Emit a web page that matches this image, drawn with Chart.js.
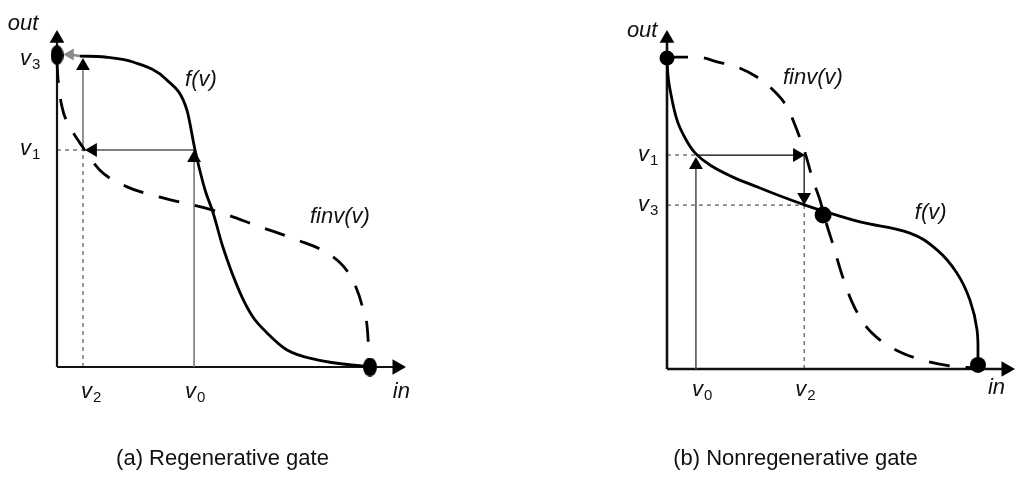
<!DOCTYPE html>
<html><head><meta charset="utf-8">
<script src="https://cdn.jsdelivr.net/npm/chart.js@4.4.0/dist/chart.umd.min.js"></script>
<style>
html,body{margin:0;padding:0;background:#fff;width:1024px;height:484px;overflow:hidden}
#wrap{position:relative;width:1024px;height:484px}
canvas{position:absolute;top:0}
#cA{left:0}#cB{left:512px}
</style></head><body>
<div id="wrap"><canvas id="cA" width="512" height="484"></canvas><canvas id="cB" width="512" height="484"></canvas></div>
<script>
// ---------------- DATA (units: in / out, 0..10) ----------------
// (a) Regenerative gate
const regenF    = [[0.73,10.03],[1.53,10.0],[2.43,9.84],[3.51,9.26],[4.15,8.29],[4.41,7.0],[4.73,5.71],[4.98,5.0],[5.30,3.87],[5.85,2.39],[6.26,1.61],[6.71,1.10],[7.35,0.55],[8.31,0.23],[9.97,0.0]];
const regenFinv = [[0,9.84],[0.03,9.32],[0.16,8.39],[0.42,7.74],[0.73,7.23],[1.37,6.35],[2.24,5.81],[3.29,5.48],[4.98,5.06],[6.49,4.52],[7.67,4.10],[8.63,3.68],[9.14,3.26],[9.52,2.65],[9.78,1.84],[9.94,0.87],[9.97,0]];
const regenLevels = [4.38, 7.0, 0.83, 10.03];       // v0 (in), v1 (out), v2 (in), v3 (out)
const regenDots   = [[0,10.06],[10.0,0]];
// (b) Nonregenerative gate
const nonregF    = [[0,10],[0.03,9.45],[0.10,8.97],[0.32,8.01],[0.58,7.43],[0.90,6.95],[1.38,6.56],[2.12,6.17],[2.99,5.82],[3.73,5.53],[4.44,5.27],[5.02,5.08],[6.21,4.73],[7.81,4.37],[8.68,3.83],[9.32,3.09],[9.74,2.22],[9.97,1.25],[10.0,0.13]];
const nonregFinv = [[0,10.03],[0.96,10.03],[1.64,9.87],[2.25,9.71],[2.89,9.39],[3.41,8.97],[3.86,8.42],[4.18,7.68],[4.44,6.95],[4.69,6.08],[4.92,5.43],[5.11,4.73],[5.34,3.99],[5.63,3.02],[5.95,2.15],[6.37,1.41],[6.85,0.93],[7.49,0.55],[8.30,0.26],[9.10,0.10],[9.90,0.03]];
const nonregLevels = [0.93, 6.88, 4.41, 5.27];      // v0 (in), v1 (out), v2 (in), v3 (out)
const nonregDots   = [[0,10],[5.02,4.95],[10.0,0.13]];
// text
const levelNames = ['v','v','v','v'];
const levelSubs  = ['0','1','2','3'];
const captions   = ['(a) Regenerative gate','(b) Nonregenerative gate'];

// ---------------- LAYOUT ----------------
function frame(ox, oy, ppx, ppy, w, h){
  return {ppx, ppy, x:{min:-ox/ppx, max:(w-ox)/ppx}, y:{min:-(h-oy)/ppy, max:oy/ppy}};
}
const frameA = frame(57, 367, 31.3, 31, 512, 484);
const frameB = frame(155, 369, 31.1, 31.1, 512, 484);

const P = a => a.map(p => ({x:p[0], y:p[1]}));
function head(fr, tx, ty, dir, r){
  const dx = r/fr.ppx, dy = r/fr.ppy;
  if (dir==='up')    return {x:tx, y:ty-dy, rot:0, r};
  if (dir==='down')  return {x:tx, y:ty+dy, rot:180, r};
  if (dir==='right') return {x:tx-dx, y:ty, rot:90, r};
  return {x:tx+dx, y:ty, rot:270, r};
}
function line(data, color, width, dash, order){
  return {data:P(data), showLine:true, pointRadius:0, borderColor:color, borderWidth:width,
          borderDash:dash||[], tension:0, order:order||5, fill:false};
}
function curve(data, dash, mono){
  const d = {data:P(data), showLine:true, pointRadius:0, borderColor:'#000', borderWidth:2.8,
          borderDash:dash||[], order:3, fill:false, borderJoinStyle:'round'};
  if (mono) d.cubicInterpolationMode='monotone'; else d.tension=0.4;
  return d;
}
function heads(list, order){
  return {data:list.map(h=>({x:h.x,y:h.y})), showLine:false,
    pointStyle:'triangle', pointRadius:list.map(h=>h.r), pointRotation:list.map(h=>h.rot),
    pointBackgroundColor:list.map(h=>h.c||'#000'), pointBorderWidth:0, borderWidth:0, order:order||2};
}
function ellipseImg(w,h){
  const c=document.createElement('canvas'); c.width=w; c.height=h;
  const g=c.getContext('2d'); g.fillStyle='#000'; g.beginPath();
  g.ellipse(w/2,h/2,w/2,h/2,0,0,Math.PI*2); g.fill(); return c;
}

const FONT = '"Liberation Sans", Arial, Helvetica, sans-serif';
const textPlugin = {
  id:'txt',
  afterDatasetsDraw(chart, args, opts){
    const ctx=chart.ctx, xs=chart.scales.x, ys=chart.scales.y;
    ctx.save(); ctx.fillStyle='#111'; ctx.textBaseline='alphabetic'; ctx.textAlign='left';
    for (const t of opts.items){
      const px=xs.getPixelForValue(t.x), py=ys.getPixelForValue(t.y);
      ctx.font='italic 22px '+FONT;
      ctx.fillText(t.text, px, py);
      if (t.sub){ const w=ctx.measureText(t.text).width; ctx.font='15px '+FONT; ctx.fillText(t.sub, px+w+1, py+4); }
    }
    ctx.font='22px '+FONT; ctx.textAlign='center';
    ctx.fillText(opts.caption, opts.capX, 465);
    ctx.restore();
  }
};

function makeChart(id, fr, datasets, items, caption, capX){
  return new Chart(document.getElementById(id), {
    type:'scatter',
    data:{datasets},
    options:{
      responsive:false, devicePixelRatio:1, animation:false, events:[],
      layout:{padding:0, autoPadding:false},
      scales:{x:{type:'linear', display:false, min:fr.x.min, max:fr.x.max},
              y:{type:'linear', display:false, min:fr.y.min, max:fr.y.max}},
      plugins:{legend:{display:false}, tooltip:{enabled:false},
               txt:{items, caption, capX}}
    },
    plugins:[textPlugin]
  });
}

// ---------------- (a) ----------------
{
  const fr=frameA; const [v0,v1,v2,v3]=regenLevels;
  const xTip=11.15, yTip=10.87;
  const hs=[
    head(fr,xTip,0,'right',9), head(fr,0,yTip,'up',8.5),
    Object.assign(head(fr,0.2,10.08,'left',7),{c:'#8a8a8a'}),
    head(fr,v2,9.97,'up',8), head(fr,v2+0.06,v1,'left',8), head(fr,v0,v1,'up',8)
  ];
  const ds=[
    {data:P([regenDots[0]]), showLine:false, pointStyle:ellipseImg(13,20), order:0},
    {data:P([regenDots[1]]), showLine:false, pointStyle:ellipseImg(14,19), order:0},
    heads(hs,1),
    curve(regenF,[],true),
    curve(regenFinv,[21,16],true),
    line([[regenF[0][0],v3],[0.4,10.08]],'#8a8a8a',2.5,[],3),
    line([[v2,v1],[v2,9.6]],'#777',1.6,[],4),
    line([[v0,v1],[v2+0.3,v1]],'#000',1.2,[],4),
    line([[v0,0],[v0,v1-0.2]],'#777',1.6,[],4),
    line([[0,v1],[v2,v1]],'#333',1,[4,4],6),
    line([[v2,0],[v2,v1]],'#333',1,[4,4],6),
    line([[0,0],[xTip-0.3,0]],'#111',2.2,[],5),
    line([[0,0],[0,yTip-0.3]],'#111',2.2,[],5)
  ];
  const items=[
    {text:'out', x:-1.57, y:10.87},
    {text:levelNames[3], sub:levelSubs[3], x:-1.18, y:v3-0.28},
    {text:levelNames[1], sub:levelSubs[1], x:-1.18, y:v1-0.16},
    {text:levelNames[2], sub:levelSubs[2], x:v2-0.06, y:-1.0},
    {text:levelNames[0], sub:levelSubs[0], x:v0-0.29, y:-1.0},
    {text:'in', x:10.73, y:-1.0},
    {text:'f(v)', x:4.09, y:9.06},
    {text:'finv(v)', x:8.08, y:4.65}
  ];
  makeChart('cA', fr, ds, items, captions[0], 222.5);
}
// ---------------- (b) ----------------
{
  const fr=frameB; const [v0,v1,v2,v3]=nonregLevels;
  const xTip=11.19, yTip=10.9;
  const hs=[
    head(fr,xTip,0,'right',9), head(fr,0,yTip,'up',8.5),
    head(fr,v0,v1-0.06,'up',8), head(fr,v2+0.03,v1,'right',8), head(fr,v2,v3,'down',8)
  ];
  const ds=[
    {data:P(nonregDots), showLine:false, pointStyle:'circle', pointRadius:[7.5,8.5,8], pointBackgroundColor:'#000', pointBorderWidth:0, order:0},
    heads(hs,1),
    curve(nonregF,[],false),
    curve(nonregFinv,[21,16],true),
    line([[v0,0],[v0,v1-0.3]],'#555',1.6,[],4),
    line([[v0,v1],[v2-0.3,v1]],'#000',1.2,[],4),
    line([[v2,v1],[v2,v3+0.3]],'#000',1.2,[],4),
    line([[0,v1],[v0,v1]],'#333',1,[4,4],6),
    line([[0,v3],[v2,v3]],'#333',1,[4,4],6),
    line([[v2,0],[v2,v3]],'#333',1,[4,4],6),
    line([[0,0],[xTip-0.3,0]],'#111',2.4,[],5),
    line([[0,0],[0,yTip-0.3]],'#111',2.6,[],5)
  ];
  const items=[
    {text:'out', x:-1.29, y:10.68},
    {text:levelNames[1], sub:levelSubs[1], x:-0.93, y:v1-0.19},
    {text:levelNames[3], sub:levelSubs[3], x:-0.93, y:v3-0.19},
    {text:levelNames[0], sub:levelSubs[0], x:v0-0.13, y:-0.87},
    {text:levelNames[2], sub:levelSubs[2], x:v2-0.29, y:-0.87},
    {text:'in', x:10.32, y:-0.80},
    {text:'finv(v)', x:3.73, y:9.16},
    {text:'f(v)', x:7.97, y:4.82}
  ];
  makeChart('cB', fr, ds, items, captions[1], 283.5);
}
</script>
</body></html>
